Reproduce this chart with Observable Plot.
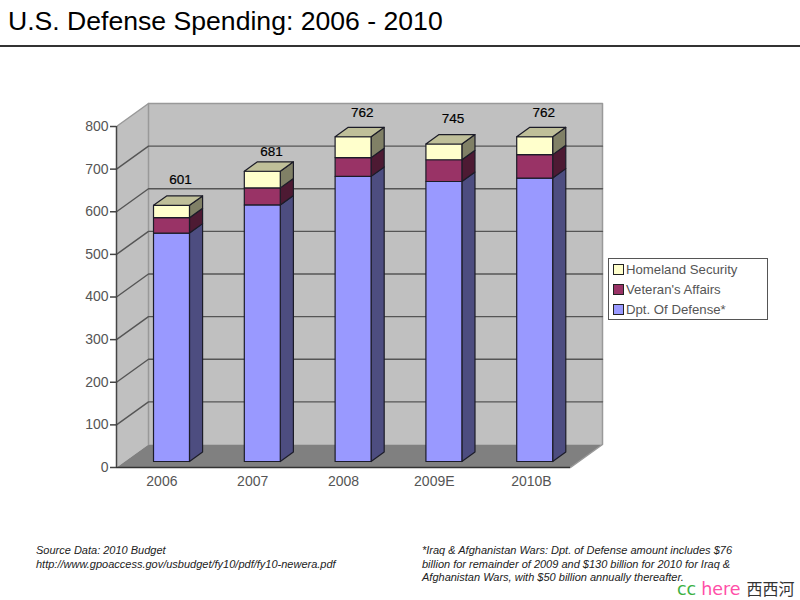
<!DOCTYPE html>
<html><head><meta charset="utf-8">
<script src="https://cdn.jsdelivr.net/npm/d3@7"></script>
<script src="https://cdn.jsdelivr.net/npm/@observablehq/plot@0.6"></script>
<style>
html,body{margin:0;padding:0;background:#fff;font-family:"Liberation Sans",Arial,sans-serif}
#page{position:relative;width:800px;height:600px;overflow:hidden}
#title{position:absolute;left:8px;top:6px;font-size:26.6px;line-height:30px;color:#000;white-space:nowrap}
#rule{position:absolute;left:0;top:45px;width:800px;height:2px;background:#333}
#chart{position:absolute;left:0;top:60px}
#legend{position:absolute;left:608px;top:258px;width:158px;height:60px;background:#fff;border:1px solid #555;color:#555;font-size:13.2px}
.row{position:absolute;left:4px;height:20px;line-height:20px;white-space:nowrap}
.sw{display:inline-block;width:9px;height:9px;border:1px solid #222;margin-right:2px;vertical-align:-1px}
.note{position:absolute;font-style:italic;font-size:11px;line-height:13.5px;color:#222;white-space:nowrap}
#mark{position:absolute;left:677px;top:578px;font-size:17.5px;line-height:20px;white-space:nowrap}
</style></head>
<body><div id="page">
<div id="title"></div><div id="rule"></div><div id="chart"></div><div id="legend"></div>
<div class="note" id="src" style="left:36px;top:544px"></div>
<div class="note" id="foot" style="left:422px;top:544px"></div>
<div id="mark"><span style="font-family:'DejaVu Sans';color:#3cb043">cc</span> <span style="font-family:'DejaVu Sans';color:#ff4fa8">here</span> <span style="font-family:'Noto Sans CJK SC';color:#333;font-size:16px;margin-left:1px">西西河</span></div>
</div>
<script>
const titleText = "U.S. Defense Spending: 2006 - 2010";
const categories = ["2006","2007","2008","2009E","2010B"];
const defense = [536,602,669,657,665];
const veterans = [36,40,44,51,55];
const homeland = [29,39,49,37,42];
const totals = [601,681,762,745,762];
const yTicks = [0,100,200,300,400,500,600,700,800];
const seriesNames = ["Homeland Security","Veteran's Affairs","Dpt. Of Defense*"];
const sourceLines = ["Source Data: 2010 Budget","http://www.gpoaccess.gov/usbudget/fy10/pdf/fy10-newera.pdf"];
const footLines = ["*Iraq & Afghanistan Wars: Dpt. of Defense amount includes $76","billion for remainder of 2009 and $130 billion for 2010 for Iraq &","Afghanistan Wars, with $50 billion annually thereafter."];
const labelTicks = [0.5,1.5,2.5,3.5,4.57];
const labelLift = [37,23,35,37,35];

const palette = {
  homeland:{front:"#ffffcc",side:"#808066",top:"#bfbf99"},
  veterans:{front:"#993366",side:"#4d1a33"},
  defense:{front:"#9999ff",side:"#4d4d80"}
};

// oblique projection: depth d (0..1) shifts along x (category units) and y (value units)
const DX = 0.3524, DY = 54;
const maxV = 800, nCat = categories.length;
const P = (x,v,d=0) => ({x:x+d*DX, y:v+d*DY});
let fid = 0;
const face = (pts,fill) => { const id = fid++; return [...pts,pts[0]].map(p => ({...p,id,fill})); };

const walls = [
  ...face([P(0,0),P(0,maxV),P(0,maxV,1),P(0,0,1)],"#c0c0c0"),
  ...face([P(0,0,1),P(0,maxV,1),P(nCat,maxV,1),P(nCat,0,1)],"#c0c0c0"),
  ...face([P(0,0),P(nCat,0),P(nCat,0,1),P(0,0,1)],"#808080")
];
const edges = [
  [P(0,maxV),P(0,maxV,1),P(nCat,maxV,1),P(nCat,0,1),P(nCat,0)],
  [P(0,0,1),P(0,maxV,1)]
].flatMap((e,i)=>e.map(p=>({...p,id:i})));
const gridLines = yTicks.slice(1,-1).flatMap(v=>[P(0,v),P(0,v,1),P(nCat,v,1)].map(p=>({...p,id:v})));

const d0 = 0.26, d1 = 0.67, barL = 0.316, barW = 0.396;
const faces = [];
categories.forEach((c,i)=>{
  const l = i+barL, r = l+barW;
  const layers = [
    [0,defense[i],palette.defense],
    [defense[i],defense[i]+veterans[i],palette.veterans],
    [defense[i]+veterans[i],totals[i],palette.homeland]
  ];
  layers.forEach(([a,b,col])=>{
    faces.push(...face([P(r,a,d0),P(r,b,d0),P(r,b,d1),P(r,a,d1)],col.side));
    faces.push(...face([P(l,a,d0),P(r,a,d0),P(r,b,d0),P(l,b,d0)],col.front));
  });
  const t = totals[i];
  faces.push(...face([P(l,t,d0),P(r,t,d0),P(r,t,d1),P(l,t,d1)],palette.homeland.top));
});
const labels = categories.map((c,i)=>({
  ...P(i+barL+barW/2, totals[i]+labelLift[i], d1), text:String(totals[i])
}));

const lineStyle = {x:"x",y:"y",z:"id"};
const plot = Plot.plot({
  width:800,height:440,marginLeft:116,marginRight:198,marginTop:43,marginBottom:33,
  style:{background:"transparent",fontFamily:"'Liberation Sans',Arial,sans-serif"},
  x:{type:"linear",domain:[0,nCat+DX],axis:null},
  y:{type:"linear",domain:[0,maxV+DY],axis:null},
  color:{type:"identity"},
  marks:[
    Plot.line(walls,{...lineStyle,fill:"fill",stroke:"none"}),
    Plot.line(edges,{...lineStyle,stroke:"#999",strokeWidth:1.5}),
    Plot.line(gridLines,{...lineStyle,stroke:"#555",strokeWidth:1.4}),
    Plot.line(faces,{...lineStyle,fill:"fill",stroke:"#1c1c28",strokeWidth:1.2}),
    Plot.ruleY([0],{x1:0,x2:nCat,stroke:"#333",strokeWidth:1.6}),
    Plot.ruleX([0],{y1:0,y2:maxV,stroke:"#444",strokeWidth:1.5}),
    Plot.axisY({ticks:yTicks,tickSize:6,tickPadding:2,stroke:"#444",strokeWidth:1.5,color:"#555",fontSize:14,label:null,tickFormat:d=>d,anchor:"left"}),
    Plot.axisX({ticks:labelTicks,tickSize:0,tickPadding:9,color:"#555",fontSize:14,label:null,anchor:"bottom",tickFormat:(d)=>categories[labelTicks.indexOf(d)]}),
    Plot.text(labels,{x:"x",y:"y",dx:-4,text:"text",fill:"#000",fontSize:13.5,stroke:"#000",strokeWidth:0.2})
  ]
});
document.getElementById("chart").append(plot);

document.getElementById("title").textContent = titleText;
document.getElementById("src").innerHTML = sourceLines.join("<br>");
document.getElementById("foot").innerHTML = footLines.map(s=>s.replace(/&/g,"&amp;")).join("<br>");
const swatches = [palette.homeland.front,palette.veterans.front,palette.defense.front];
document.getElementById("legend").innerHTML = seriesNames.map((n,i)=>
  `<div class="row" style="top:${i*20+1}px"><span class="sw" style="background:${swatches[i]}"></span>${n}</div>`).join("");
</script>
</body></html>
